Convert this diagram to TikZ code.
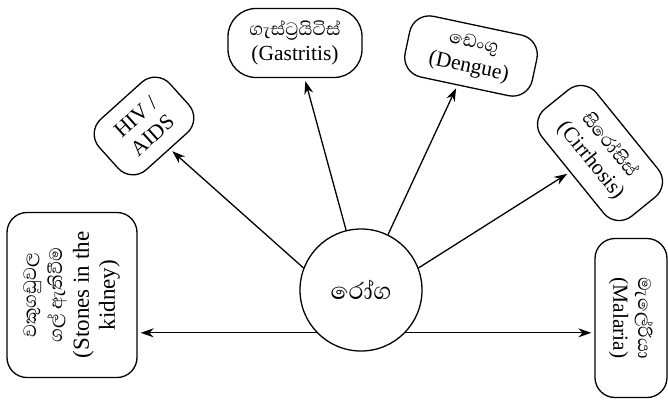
\documentclass[tikz,border=0pt]{standalone}
\usepackage{fontspec}
\setmainfont{Liberation Serif}
\newfontfamily\sinhalafont[Script=Sinhala]{Abhaya Libre}
\usetikzlibrary{arrows.meta}
\newcommand\sinl[1]{{\sinhalafont\fontsize{23}{25}\selectfont #1}}
\begin{document}
\begin{tikzpicture}[x=1pt,y=-1pt,
  box/.style={draw, line width=1.3pt, rounded corners=20pt, align=center, inner sep=0pt,
    font=\fontsize{21.5}{25}\selectfont},
  arr/.style={line width=1.3pt, -{Stealth[length=13pt,width=9pt]}, shorten >=3pt}]
\useasboundingbox (0,0) rectangle (668,405);
\node[draw, circle, line width=1.3pt, minimum size=122pt, inner sep=0pt] (c) at (361,290)
  {\sinhalafont\fontsize{30}{32}\selectfont රෝග};
\node[box, rotate=90, minimum width=165pt, minimum height=130pt, font=\fontsize{23}{26}\selectfont] (kid) at (72,295)
  {\sinl{වකුගඩුවල}\\\sinl{ගල් ඇතිවීම}\\(Stones in the\\kidney)};
\node[box, rounded corners=28pt, minimum width=134pt, minimum height=69pt] (gas) at (295,43)
  {\sinl{ගැස්ට්‍රයිටිස්}\\(Gastritis)};
\node[box, rotate=42, minimum width=95pt, minimum height=68pt] (hiv) at (144,126)
  {HIV /\\AIDS};
\node[box, rotate=-12, minimum width=130pt, minimum height=62pt] (den) at (471,56)
  {\sinl{ඩෙංගු}\\(Dengue)};
\node[box, rotate=-51, minimum width=138pt, minimum height=70pt] (cir) at (600,153)
  {\sinl{සිරෝසිස්}\\(Cirrhosis)};
\node[box, rotate=-90, minimum width=159pt, minimum height=72pt] (mal) at (631,318)
  {\sinl{මැලේරියා}\\(Malaria)};
\draw[arr] (c.224) -- (c.224 -| kid.south);
\draw[arr] (c.-44) -- (c.-44 -| mal.south);
\draw[arr] (c.159) -- (hiv);
\draw[arr] (c.104) -- (gas);
\draw[arr] (c.64) -- (den);
\draw[arr] (c.21) -- (cir);
\end{tikzpicture}
\end{document}
